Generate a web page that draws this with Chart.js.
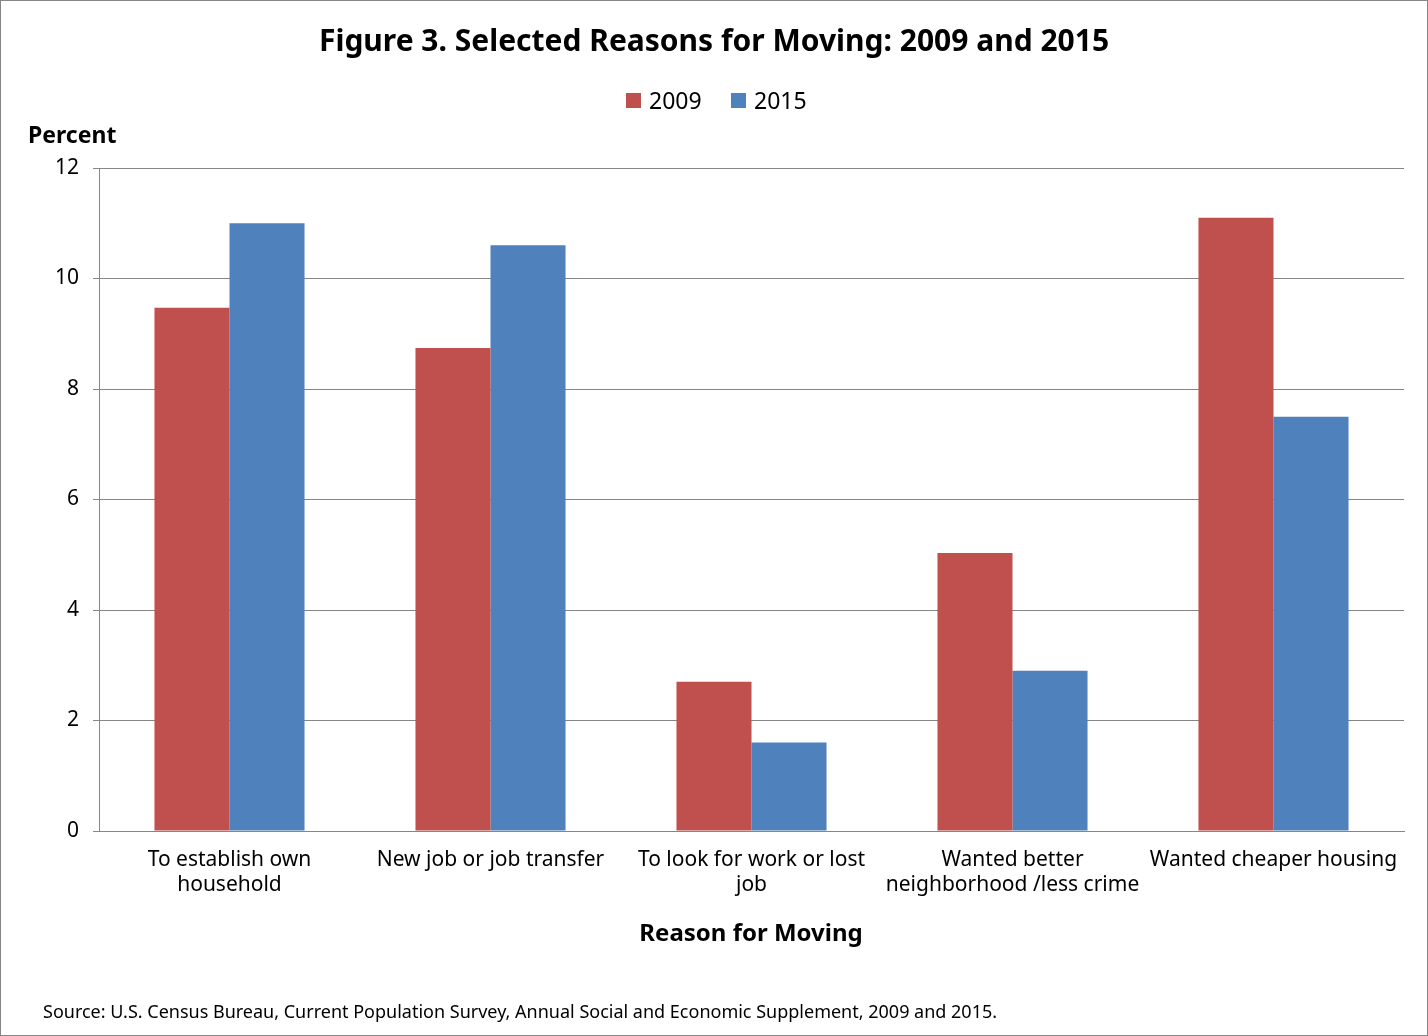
<!DOCTYPE html>
<html>
<head>
<meta charset="utf-8">
<script src="https://cdn.jsdelivr.net/npm/chart.js@4.4.0/dist/chart.umd.min.js"></script>
<style>
  html, body { margin: 0; padding: 0; background: #fff; }
  #wrap { width: 1428px; height: 1036px; position: relative; }
</style>
</head>
<body>
<div id="wrap"><canvas id="myChart" width="1428" height="1036"></canvas></div>
<script>
  const categories = [
    ["To establish own", "household"],
    ["New job or job transfer"],
    ["To look for work or lost", "job"],
    ["Wanted better", "neighborhood /less crime"],
    ["Wanted cheaper housing"]
  ];
  const values2009 = [9.47, 8.74, 2.7, 5.03, 11.1];
  const values2015 = [11.0, 10.6, 1.6, 2.9, 7.5];
  const yTicks = [0, 2, 4, 6, 8, 10, 12];

  const FONT = "'Noto Sans', 'Open Sans', sans-serif";

  // Titles, legend, footnote and frame drawn by hand
  const decorations = {
    id: "decorations",
    afterDraw(chart) {
      const ctx = chart.ctx;
      ctx.save();
      ctx.fillStyle = "#000";
      ctx.textBaseline = "middle";

      ctx.font = "bold 30px " + FONT;
      ctx.textAlign = "center";
      ctx.fillText("Figure 3. Selected Reasons for Moving: 2009 and 2015", 714, 42);

      // legend
      ctx.font = "23px " + FONT;
      ctx.textAlign = "left";
      ctx.fillStyle = "#C0504D";
      ctx.fillRect(626, 93, 15, 15);
      ctx.fillStyle = "#000";
      ctx.fillText("2009", 649, 102);
      ctx.fillStyle = "#4F81BD";
      ctx.fillRect(731, 93, 15, 15);
      ctx.fillStyle = "#000";
      ctx.fillText("2015", 754, 102);

      ctx.font = "bold 23px " + FONT;
      ctx.fillText("Percent", 28, 136);
      ctx.textAlign = "center";
      ctx.font = "bold 24px " + FONT;
      ctx.fillText("Reason for Moving", 751, 934);

      ctx.textAlign = "left";
      ctx.font = "18px " + FONT;
      ctx.fillText("Source: U.S. Census Bureau, Current Population Survey, Annual Social and Economic Supplement, 2009 and 2015.", 43, 1013);

      ctx.strokeStyle = "#868686";
      ctx.lineWidth = 1;
      ctx.strokeRect(0.5, 0.5, 1427, 1035);
      ctx.restore();
    }
  };

  const config = {
    type: "bar",
    data: {
      labels: categories,
      datasets: [
        { label: "2009", data: values2009, backgroundColor: "#C0504D" },
        { label: "2015", data: values2015, backgroundColor: "#4F81BD" }
      ]
    },
    options: {
      responsive: false,
      animation: false,
      layout: { padding: { top: 168, right: 24, left: 0, bottom: 0 } },
      datasets: { bar: { barPercentage: 1, categoryPercentage: 0.575 } },
      plugins: { legend: { display: false }, title: { display: false }, tooltip: { enabled: false } },
      scales: {
        x: {
          afterFit: (s) => { s.height = 205; },
          grid: { display: false },
          border: { color: "#868686" },
          ticks: { color: "#000", font: { size: 21, family: FONT }, maxRotation: 0, padding: 8 }
        },
        y: {
          min: 0, max: 12,
          afterFit: (s) => { s.width = 99; },
          afterBuildTicks: (s) => { s.ticks = yTicks.map(v => ({ value: v })); },
          grid: { color: "#868686", drawTicks: true, tickLength: 6 },
          border: { color: "#868686" },
          ticks: { color: "#000", font: { size: 21, family: FONT }, padding: 14 }
        }
      }
    },
    plugins: [decorations]
  };

  const myChart = new Chart(document.getElementById("myChart"), config);
</script>
</body>
</html>
